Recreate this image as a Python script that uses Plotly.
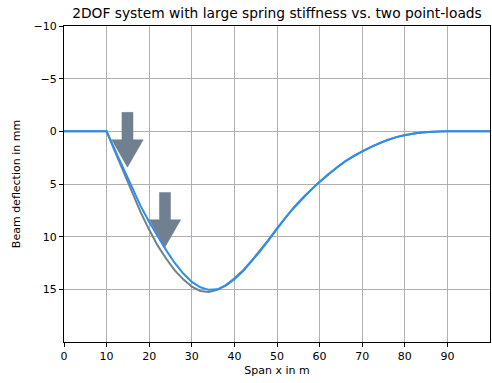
import plotly.graph_objects as go

# ---- data ----
x_span = [0, 5, 10, 12, 14, 16, 18, 20, 22, 24, 26, 28, 30, 32, 34, 36, 38, 40, 42, 44, 46, 48,
          50, 52, 54, 56, 58, 60, 62, 64, 66, 68, 70, 72, 74, 76, 78, 80, 82, 84, 86, 88, 90, 95, 100]
w_rigid = [0, 0, 0, 1.95, 3.9, 5.85, 7.7, 9.35, 10.85, 12.1, 13.2, 14.05, 14.75, 15.15, 15.25, 15.05,
           14.6, 13.95, 13.2, 12.3, 11.35, 10.3, 9.2, 8.15, 7.2, 6.32, 5.52, 4.78, 4.08, 3.43, 2.84,
           2.34, 1.9, 1.5, 1.12, 0.8, 0.55, 0.35, 0.2, 0.1, 0.04, 0.01, 0, 0, 0]
w_2dof = [0, 0, 0, 1.8, 3.6, 5.4, 7.1, 8.6, 10.0, 11.3, 12.5, 13.5, 14.3, 14.8, 15.05, 15.0,
          14.65, 14.05, 13.3, 12.4, 11.4, 10.35, 9.25, 8.2, 7.25, 6.35, 5.55, 4.8, 4.1, 3.45, 2.85,
          2.35, 1.9, 1.5, 1.12, 0.8, 0.55, 0.35, 0.2, 0.1, 0.04, 0.01, 0, 0, 0]

load_x = [14.9, 23.7]        # load positions (m)
load_top = [-1.8, 5.8]       # arrow tail (mm)
load_tip = [3.4, 11.0]       # arrow tip (mm)

x_ticks = [0, 10, 20, 30, 40, 50, 60, 70, 80, 90]
y_ticks = [-10, -5, 0, 5, 10, 15]
y_tick_text = ["\u221210", "\u22125", "0", "5", "10", "15"]

GRAY = "#708090"
BLUE = "#2b8ff0"

fig = go.Figure()
fig.add_trace(go.Scatter(x=x_span, y=w_rigid, mode="lines", line=dict(color=GRAY, width=2),
                         showlegend=False))
fig.add_trace(go.Scatter(x=x_span, y=w_2dof, mode="lines", line=dict(color=BLUE, width=2),
                         showlegend=False))

# arrows as filled polygons built from load data
shaft_w = 2.6
head_w = 7.4
for xc, yt, yp in zip(load_x, load_top, load_tip):
    head_len = (yp - yt) / 2.0
    yb = yp - head_len
    xs = [xc - shaft_w / 2, xc + shaft_w / 2, xc + shaft_w / 2, xc + head_w / 2, xc,
          xc - head_w / 2, xc - shaft_w / 2, xc - shaft_w / 2]
    ys = [yt, yt, yb, yb, yp, yb, yb, yt]
    fig.add_trace(go.Scatter(x=xs, y=ys, mode="lines", fill="toself", fillcolor=GRAY,
                             line=dict(color=GRAY, width=0.5), showlegend=False, hoverinfo="skip"))

font = dict(family="DejaVu Sans", size=11, color="black")
fig.update_layout(
    width=492, height=383,
    margin=dict(l=64, r=2, t=26, b=41, autoexpand=False),
    paper_bgcolor="white", plot_bgcolor="white",
    title=dict(text="2DOF system with large spring stiffness vs. two point-loads",
               x=0.5, xanchor="center", xref="paper", y=1 - 13 / 383, yanchor="middle",
               font=dict(family="DejaVu Sans", size=13.8, color="black")),
    font=font,
)
fig.update_xaxes(range=[0, 100], tickvals=x_ticks, ticks="outside", ticklen=4, tickcolor="black",
                 showline=True, linecolor="black", linewidth=1, mirror=True, automargin=False,
                 showgrid=True, gridcolor="#b0b0b0", gridwidth=1, zeroline=False,
                 title=dict(text="Span x in m", font=font, standoff=4), tickfont=font)
fig.update_yaxes(range=[20, -10], tickvals=y_ticks, ticktext=y_tick_text, ticks="outside", ticklen=4,
                 tickcolor="black", automargin=False,
                 showline=True, linecolor="black", linewidth=1, mirror=True,
                 showgrid=True, gridcolor="#b0b0b0", gridwidth=1, zeroline=False,
                 title=dict(text="Beam deflection in mm", font=font, standoff=10), tickfont=font)

fig.write_html("out.html", config={"displayModeBar": False},
               post_script="document.body.style.margin='0px';")
